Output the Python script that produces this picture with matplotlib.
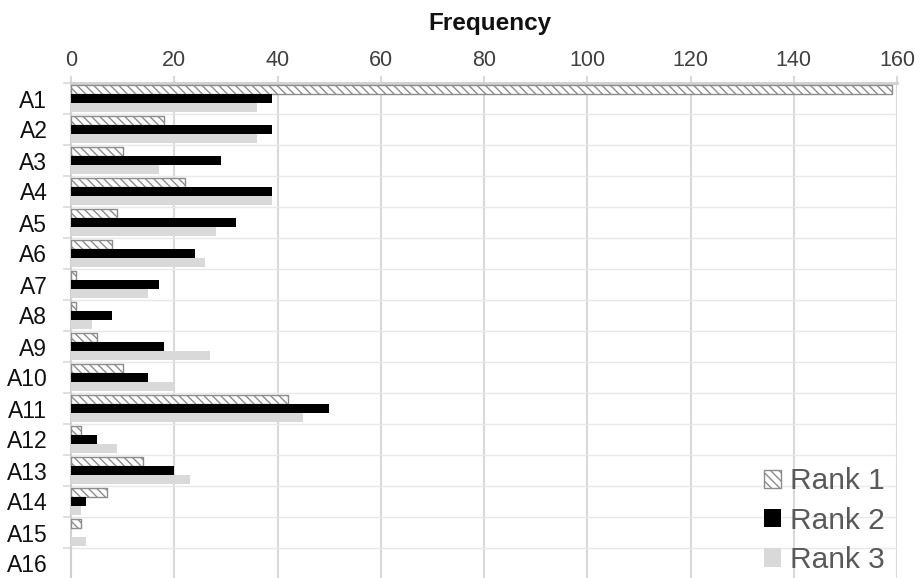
import matplotlib
matplotlib.use("Agg")
import matplotlib.pyplot as plt
import numpy as np
from matplotlib.ticker import FixedLocator

categories = ["A1", "A2", "A3", "A4", "A5", "A6", "A7", "A8", "A9", "A10",
              "A11", "A12", "A13", "A14", "A15", "A16"]
rank1 = [159, 18, 10, 22, 9, 8, 1, 1, 5, 10, 42, 2, 14, 7, 2, 0]
rank2 = [39, 39, 29, 39, 32, 24, 17, 8, 18, 15, 50, 5, 20, 3, 0, 0]
rank3 = [36, 36, 17, 39, 28, 26, 15, 4, 27, 20, 45, 9, 23, 2, 3, 0]
series_names = ["Rank 1", "Rank 2", "Rank 3"]
x_ticks = [0, 20, 40, 60, 80, 100, 120, 140, 160]

plt.rcParams['font.family'] = ['Liberation Sans', 'DejaVu Sans']
plt.rcParams['hatch.linewidth'] = 1.0

W, H = 921, 578
fig = plt.figure(figsize=(W / 100, H / 100), dpi=100)
left, right, top, bottom = 71, 897, 83, 579
ax = fig.add_axes([left / W, (H - bottom) / H, (right - left) / W, (bottom - top) / H])

y = np.arange(len(categories))
h = 0.27
off = 0.285
lw1 = [1.0 if v > 0 else 0 for v in rank1]
ax.barh(y - off, rank1, height=h, color='white', edgecolor='#8c8c8c',
        hatch='\\\\\\\\', linewidth=lw1, label=series_names[0], zorder=3)
ax.barh(y, rank2, height=h, color='black', linewidth=0,
        label=series_names[1], zorder=3)
ax.barh(y + off, rank3, height=h, color='#d9d9d9', linewidth=0,
        label=series_names[2], zorder=3)

ax.set_xlim(0, 160)
ax.set_ylim(len(categories) - 0.5, -0.5)

ax.xaxis.tick_top()
ax.xaxis.set_label_position('top')
ax.set_xticks(x_ticks)
ax.set_xticklabels([str(v) for v in x_ticks])
ax.set_xlabel("Frequency", fontsize=17.5, fontweight='bold', labelpad=14, color='#111111')
ax.xaxis.label.set_x((490 - left) / (right - left))
ax.tick_params(axis='x', which='major', length=5, width=1.5, color='#d9d9d9',
               labelsize=15.5, labelcolor='#404040', pad=4)

ax.set_yticks(y)
ax.set_yticklabels(categories)
ax.yaxis.set_minor_locator(FixedLocator(np.arange(-0.5, len(categories), 1.0)))
ax.tick_params(axis='y', which='major', length=0, labelsize=16.5, labelcolor='#111111', pad=17)
ax.tick_params(axis='y', which='minor', length=6, width=1.2, color='#d9d9d9')

ax.grid(axis='x', which='major', color='#d9d9d9', linewidth=1.5, zorder=0)
ax.grid(axis='y', which='minor', color='#e8e8e8', linewidth=1.0, zorder=0)
ax.set_axisbelow(True)

for s in ['right', 'bottom']:
    ax.spines[s].set_visible(False)
ax.spines['top'].set_color('#d0d0d0')
ax.spines['top'].set_linewidth(2)
ax.spines['left'].set_color('#d0d0d0')
ax.spines['left'].set_linewidth(1.5)

leg = ax.legend(loc='lower right', bbox_to_anchor=(885 / W, (H - 574) / H),
                bbox_transform=fig.transFigure, frameon=False, fontsize=21.5,
                handlelength=0.57, handleheight=0.57, handletextpad=0.3,
                labelspacing=0.38, borderpad=0, borderaxespad=0)
for t in leg.get_texts():
    t.set_color('#595959')

fig.savefig("out.png", dpi=100)
